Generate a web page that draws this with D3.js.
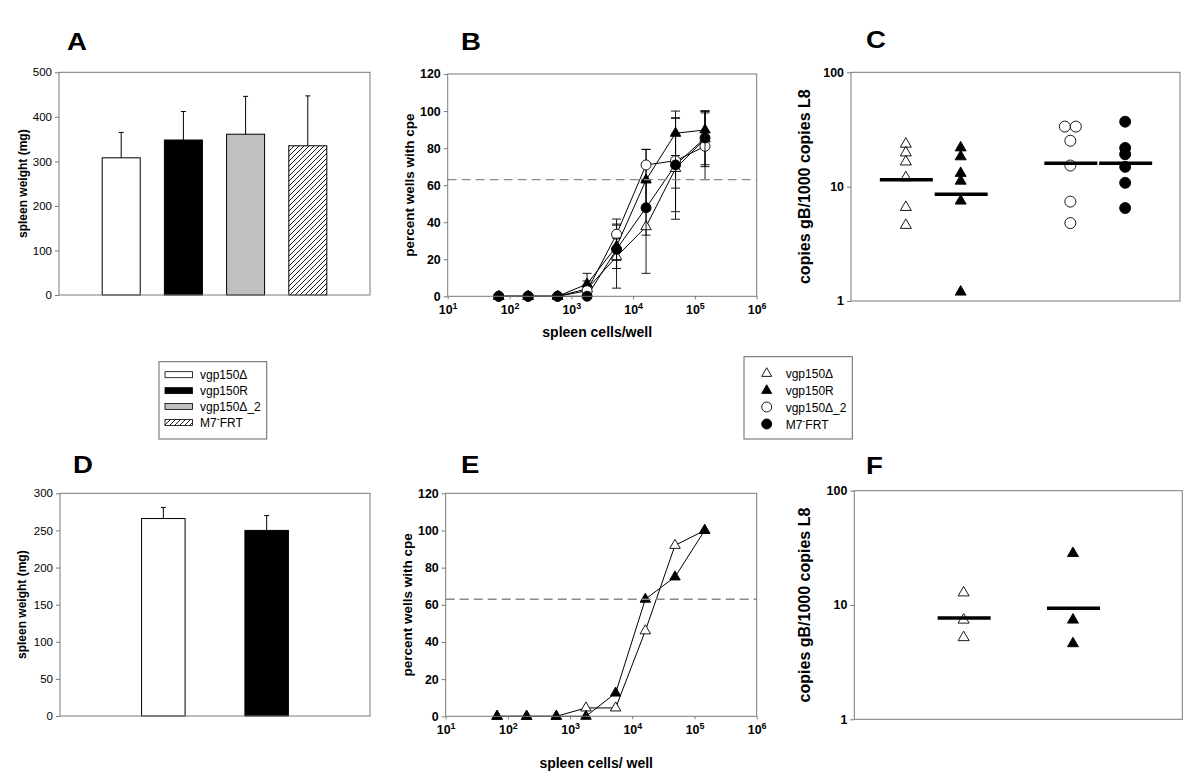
<!DOCTYPE html>
<html><head><meta charset="utf-8">
<script src="https://cdn.jsdelivr.net/npm/d3@7"></script>
<style>body{margin:0;background:#fff} text{font-family:"Liberation Sans",Arial,Helvetica,sans-serif}</style>
</head><body><svg id="c" width="1200" height="777" xmlns="http://www.w3.org/2000/svg"></svg>
<script>
// ---------------- DATA ----------------
const seriesNames = ["vgp150Δ", "vgp150R", "vgp150Δ_2", "M7-FRT"];

// Panel A: spleen weight (mg)
const aMeans = [308, 348, 361, 335];
const aErrUp = [57, 64, 85, 112];
const aTicks = [0, 100, 200, 300, 400, 500];

// Panel D: spleen weight (mg)
const dMeans = [266, 250];
const dErrUp = [15, 20];
const dTicks = [0, 50, 100, 150, 200, 250, 300];

// Panels B/E: spleen cells per well (3-fold dilutions)
const cellsPerWell = [67, 200, 600, 1800, 5400, 16200, 48600, 145800];
const pctTicks = [0, 20, 40, 60, 80, 100, 120];
const logXTicks = [1, 2, 3, 4, 5, 6];
const cutoff = 63;

const bOpenTri   = [0, 0, 0, 4, 21.4, 37.6, 69, 85];
const bOpenTriSD = [0, 0, 0, 4.3, 17, 25.2, 27.4, 15];
const bFillTri   = [0, 0, 0, 6.6, 27, 62.8, 88, 89.8];
const bFillTriSD = [0, 0, 0, 5.8, 12, 16.5, 12, 10.2];
const bOpenCir   = [0, 0, 0, 3, 33.5, 70.9, 73.2, 81];
const bOpenCirSD = [0, 0, 0, 2, 8.2, 8.4, 14.8, 18];
const bFillCir   = [0, 0, 0, 0, 25.4, 47.8, 70.9, 85.5];
const bFillCirSD = [0, 0, 0, 0, 6, 14.8, 25.2, 14.5];

const eOpenTri = [0, 0, 0, 4.5, 4.5, 46, 92, 100];
const eFillTri = [0, 0, 0, 0, 12.5, 63, 75, 100];

// Panels C/F: copies gB / 1000 copies L8
const logYTicks = [1, 10, 100];
const cOpenTri = [23.6, 19.8, 16.5, 12.0, 6.6, 4.6];
const cFillTri = [21.9, 18.3, 13.1, 11.2, 7.5, 1.2];
const cOpenCir = [33.5, 33.5, 25.2, 15.3, 7.4, 4.8];
const cFillCir = [37, 21.8, 19.2, 14.9, 10.8, 6.5];
const cCenter  = [11.5, 8.6, 16.0, 16.0];

const fOpenTri = [12.8, 7.4, 5.2];
const fFillTri = [28.3, 7.4, 4.6];
const fCenter  = [7.7, 9.35];

// ---------------- DRAW ----------------
const svg = d3.select("#c");
const FR = "#7a7a7a";
const defs = svg.append("defs");
defs.append("pattern").attr("id", "hatch").attr("patternUnits", "userSpaceOnUse")
  .attr("width", 5).attr("height", 5)
  .append("path").attr("d", "M-1,1 l2,-2 M0,5 l5,-5 M4,6 l2,-2")
  .attr("stroke", "#000").attr("stroke-width", 0.9);

const barFills = ["#ffffff", "#000000", "#c0c0c0", "url(#hatch)"];

function letter(t, x, y) {
  svg.append("text").attr("x", x).attr("y", y).attr("font-size", 24).attr("font-weight", "bold")
    .attr("transform", `translate(${x},${y}) scale(1.15,1) translate(${-x},${-y})`).text(t);
}
function frame(L, R, T, B) {
  svg.append("rect").attr("x", L).attr("y", T).attr("width", R - L).attr("height", B - T)
    .attr("fill", "none").attr("stroke", FR).attr("stroke-width", 1);
}
function yLabel(t, x, cy, size) {
  svg.append("text").attr("transform", `translate(${x},${cy}) rotate(-90)`).attr("text-anchor", "middle")
    .attr("font-size", size).attr("font-weight", "bold").text(t);
}
function styleAxis(g, size, bold) {
  g.select(".domain").remove();
  g.selectAll(".tick line").attr("stroke", FR);
  g.selectAll(".tick text").attr("font-size", size).attr("font-weight", bold ? "bold" : "normal")
    .attr("fill", "#000").attr("font-family", "Liberation Sans, Arial, sans-serif");
}

function barPanel(o) {
  const y = d3.scaleLinear().domain([0, o.ticks[o.ticks.length - 1]]).range([o.B, o.T]);
  const x = d3.scaleLinear().domain([0, o.means.length + 1]).range([o.L, o.R]);
  const g = svg.append("g");
  o.means.forEach((m, i) => {
    const cx = x(i + 1);
    g.append("line").attr("x1", cx).attr("x2", cx).attr("y1", y(m)).attr("y2", y(m + o.err[i]))
      .attr("stroke", "#000").attr("stroke-width", 1);
    g.append("line").attr("x1", cx - 2.5).attr("x2", cx + 2.5).attr("y1", y(m + o.err[i])).attr("y2", y(m + o.err[i]))
      .attr("stroke", "#000").attr("stroke-width", 1);
    g.append("rect").attr("x", cx - o.bw / 2).attr("y", y(m)).attr("width", o.bw).attr("height", y(0) - y(m))
      .attr("fill", barFills[i]).attr("stroke", "#000").attr("stroke-width", 1);
  });
  frame(o.L, o.R, o.T, o.B);
  const ax = svg.append("g").attr("transform", `translate(${o.L},0)`)
    .call(d3.axisLeft(y).tickValues(o.ticks).tickSize(4).tickPadding(3));
  styleAxis(ax, 11.5, false);
  yLabel("spleen weight (mg)", o.labX, (o.T + o.B) / 2, 12);
}

function supText(sel, fs) {
  sel.each(function (d) {
    const t = d3.select(this); t.text(null);
    t.append("tspan").text("10");
    t.append("tspan").attr("dy", -5).attr("font-size", fs - 3.5).text(Math.round(Math.log10(d)));
  });
}

function marker(g, type, cx, cy, size) {
  if (type === "ot" || type === "ft") {
    const a = Math.sqrt(3) / 4 * size * size;
    g.append("path").attr("d", d3.symbol(d3.symbolTriangle, a)())
      .attr("transform", `translate(${cx},${cy})`)
      .attr("fill", type === "ft" ? "#000" : "#fff").attr("stroke", "#000").attr("stroke-width", 0.9);
  } else {
    g.append("circle").attr("cx", cx).attr("cy", cy).attr("r", size / 2)
      .attr("fill", type === "fc" ? "#000" : "#fff").attr("stroke", "#000").attr("stroke-width", 0.9);
  }
}

function curvePanel(o) {
  const x = d3.scaleLog().domain([10, 1e6]).range([o.L, o.R]);
  const y = d3.scaleLinear().domain([0, 120]).range([o.B, o.T]);
  const g = svg.append("g");
  svg.append("line").attr("x1", o.L).attr("x2", o.R).attr("y1", y(cutoff)).attr("y2", y(cutoff))
    .attr("stroke", "#8a8a8a").attr("stroke-width", 1.3).attr("stroke-dasharray", "9,5");
  const line = d3.line().x((d, i) => x(cellsPerWell[i])).y(d => y(d));
  o.series.forEach(s => g.append("path").attr("d", line(s.vals)).attr("fill", "none").attr("stroke", "#000").attr("stroke-width", 1));
  o.series.forEach(s => {
    if (s.sd) s.vals.forEach((v, i) => {
      if (!s.sd[i]) return;
      const cx = x(cellsPerWell[i]);
      const hi = Math.min(v + s.sd[i], 100.2), lo = Math.max(v - s.sd[i], 0);
      g.append("line").attr("x1", cx).attr("x2", cx).attr("y1", y(lo)).attr("y2", y(hi)).attr("stroke", "#000").attr("stroke-width", 0.9);
      [lo, hi].forEach(e => g.append("line").attr("x1", cx - 4.5).attr("x2", cx + 4.5).attr("y1", y(e)).attr("y2", y(e))
        .attr("stroke", "#000").attr("stroke-width", 0.9));
    });
    s.vals.forEach((v, i) => marker(g, s.type, x(cellsPerWell[i]), y(v), s.type[1] === "t" ? 10.5 : 10));
  });
  frame(o.L, o.R, o.T, o.B);
  const ay = svg.append("g").attr("transform", `translate(${o.L},0)`)
    .call(d3.axisLeft(y).tickValues(pctTicks).tickSize(4).tickPadding(3));
  styleAxis(ay, 12.4, true);
  const ax = svg.append("g").attr("transform", `translate(0,${o.B})`)
    .call(d3.axisBottom(x).tickValues(logXTicks.map(e => Math.pow(10, e))).tickSize(3).tickPadding(6));
  styleAxis(ax, 12.4, true);
  supText(ax.selectAll(".tick text"), 12.4);
  yLabel("percent wells with cpe", o.labX, (o.T + o.B) / 2, 13.5);
  svg.append("text").attr("x", (o.L + o.R) / 2 - 5).attr("y", o.xlabY).attr("text-anchor", "middle")
    .attr("font-size", 14).attr("font-weight", "bold").text(o.xlab);
}

function scatterPanel(o) {
  const x = d3.scaleLinear().domain([0, o.groups.length + (o.groups.length > 2 ? 2 : 1)]).range([o.L, o.R]);
  const y = d3.scaleLog().domain([1, 100]).range([o.B, o.T]);
  const g = svg.append("g");
  o.groups.forEach((gr, gi) => {
    const cx = x(o.pos[gi]);
    const counts = {};
    gr.vals.forEach(v => counts[v] = (counts[v] || 0) + 1);
    const seen = {};
    gr.vals.forEach(v => {
      const k = seen[v] = (seen[v] || 0) + 1;
      const off = counts[v] > 1 ? (k - 1 - (counts[v] - 1) / 2) * 11 : 0;
      marker(g, gr.type, cx + off, y(v), 11);
    });
    g.append("line").attr("x1", cx - 26).attr("x2", cx + 27).attr("y1", y(o.center[gi])).attr("y2", y(o.center[gi]))
      .attr("stroke", "#000").attr("stroke-width", 3.5);
  });
  frame(o.L, o.R, o.T, o.B);
  const ay = svg.append("g").attr("transform", `translate(${o.L},0)`)
    .call(d3.axisLeft(y).tickValues(logYTicks).tickFormat(d3.format("d")).tickSize(4).tickPadding(3));
  styleAxis(ay, 12.4, true);
  yLabel("copies gB/1000 copies L8", o.labX, (o.T + o.B) / 2, 16);
}

// Panel letters
letter("A", 67, 50); letter("B", 461, 50); letter("C", 866, 48.5);
letter("D", 73, 473); letter("E", 461, 473); letter("F", 866, 474);

barPanel({ L: 59, R: 370, T: 72.3, B: 295, means: aMeans, err: aErrUp, ticks: aTicks, bw: 38, labX: 27 });
barPanel({ L: 60, R: 370, T: 493.3, B: 716, means: dMeans, err: dErrUp, ticks: dTicks, bw: 43.5, labX: 26 });

curvePanel({ L: 447.7, R: 756.7, T: 74, B: 296.3, labX: 414, xlab: "spleen cells/well", xlabY: 337,
  series: [
    { type: "ot", vals: bOpenTri, sd: bOpenTriSD },
    { type: "ft", vals: bFillTri, sd: bFillTriSD },
    { type: "oc", vals: bOpenCir, sd: bOpenCirSD },
    { type: "fc", vals: bFillCir, sd: bFillCirSD }
  ] });
curvePanel({ L: 445.7, R: 756.7, T: 493.3, B: 716.3, labX: 412, xlab: "spleen cells/ well", xlabY: 768,
  series: [
    { type: "ot", vals: eOpenTri },
    { type: "ft", vals: eFillTri }
  ] });

scatterPanel({ L: 851, R: 1180, T: 72.3, B: 301, labX: 810,
  pos: [1, 2, 4, 5], center: cCenter,
  groups: [ { type: "ot", vals: cOpenTri }, { type: "ft", vals: cFillTri },
            { type: "oc", vals: cOpenCir }, { type: "fc", vals: cFillCir } ] });
scatterPanel({ L: 854.3, R: 1182.3, T: 490.7, B: 719.3, labX: 810,
  pos: [1, 2], center: fCenter,
  groups: [ { type: "ot", vals: fOpenTri }, { type: "ft", vals: fFillTri } ] });

// Legends
function legText(t, x, y) {
  const el = svg.append("text").attr("x", x).attr("y", y).attr("font-size", 12);
  if (t.indexOf("-") >= 0) {
    const p = t.split("-");
    el.append("tspan").text(p[0]);
    el.append("tspan").attr("dy", -5).attr("font-size", 9).text("-");
    el.append("tspan").attr("dy", 5).text(p[1]);
  } else el.text(t);
}
const leg1Rows = d3.scaleLinear().domain([0, 3]).range([374.7, 422.5]);
svg.append("rect").attr("x", 159).attr("y", 361.7).attr("width", 107.7).attr("height", 77.3)
  .attr("fill", "#fff").attr("stroke", "#666");
seriesNames.forEach((n, i) => {
  svg.append("rect").attr("x", 165).attr("y", leg1Rows(i) - 3).attr("width", 27.5).attr("height", 6)
    .attr("fill", barFills[i]).attr("stroke", "#000").attr("stroke-width", 0.8);
  legText(n, 200, leg1Rows(i) + 4.5);
});
const leg2Rows = d3.scaleLinear().domain([0, 3]).range([373, 424]);
svg.append("rect").attr("x", 744).attr("y", 356.7).attr("width", 108.3).attr("height", 82.3)
  .attr("fill", "#fff").attr("stroke", "#666");
const lg = svg.append("g");
["ot", "ft", "oc", "fc"].forEach((t, i) => {
  marker(lg, t, 766.7, leg2Rows(i) + (t[1] === "t" ? 0.5 : 0), 10);
  legText(seriesNames[i], 785.7, leg2Rows(i) + 4.5);
});
</script></body></html>
